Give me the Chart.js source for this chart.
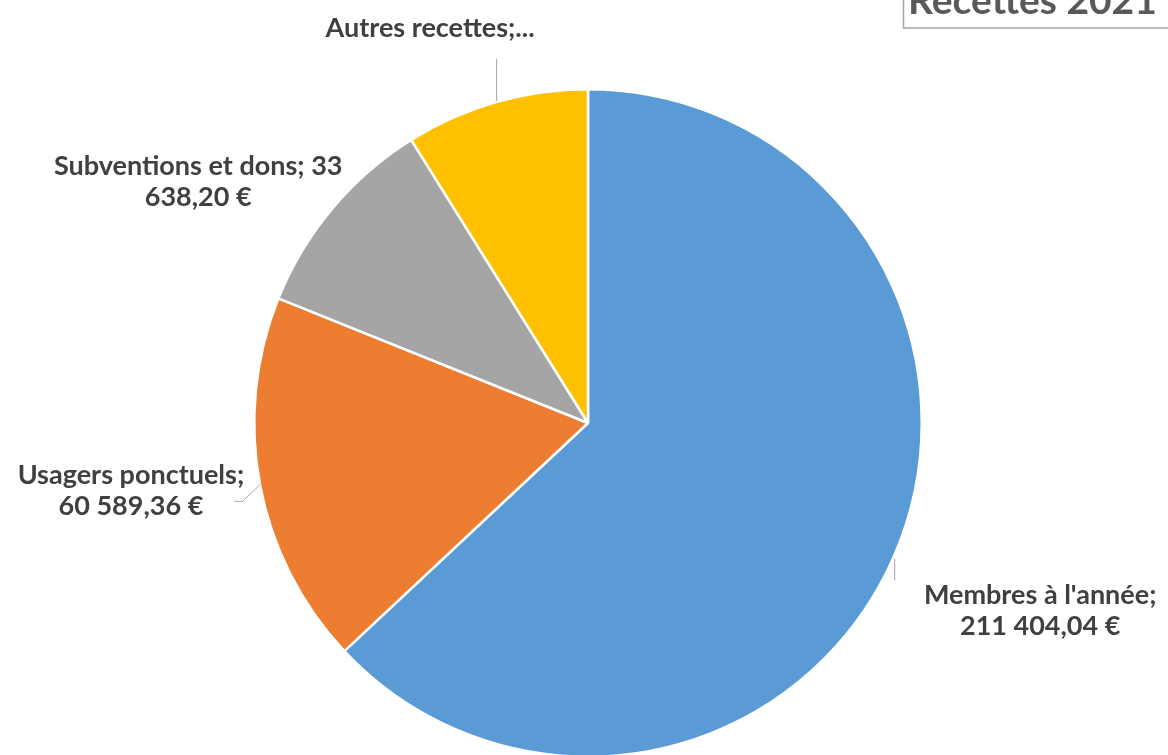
<!DOCTYPE html>
<html>
<head>
<meta charset="utf-8">
<script src="https://cdn.jsdelivr.net/npm/chart.js@4.4.0/dist/chart.umd.min.js"></script>
<style>
html,body{margin:0;padding:0;background:#fff;overflow:hidden;width:1168px;height:755px;}
#wrap{position:absolute;left:0;top:0;width:1168px;height:800px;}
</style>
</head>
<body>
<div id="wrap"><canvas id="c"></canvas></div>
<script>
const categories = ["Membres à l'année", "Usagers ponctuels", "Subventions et dons", "Autres recettes"];
const values = [211404.04, 60589.36, 33638.20, 29800.00];
const labelLines = [
  ["Membres à l'année;", "211 404,04 €"],
  ["Usagers ponctuels;", "60 589,36 €"],
  ["Subventions et dons; 33", "638,20 €"],
  ["Autres recettes;..."]
];
const colors = ["#5B9BD5", "#ED7D31", "#A5A5A5", "#FFC000"];
const titleText = "Recettes 2021";

// label placement relative to the arc's outer mid-point: [dx, dy of first line center], leader line
const labelCfg = [
  {dx: 146, dy: 40, lead: [[0, 3], [0, 25]]},
  {dx: -129, dy: -9, lead: [[0, 0], [-18, 17], [-26, 17]]},
  {dx: -134, dy: -42, lead: null},
  {dx: -66, dy: -74, lead: [[0, -1], [0, -43]]}
];

const labelPlugin = {
  id: 'labels',
  afterDraw(chart) {
    const ctx = chart.ctx;
    const meta = chart.getDatasetMeta(0);
    ctx.save();
    meta.data.forEach((arc, i) => {
      const p = arc.getProps(['x','y','startAngle','endAngle','outerRadius'], true);
      const mid = (p.startAngle + p.endAngle) / 2;
      const ax = p.x + Math.cos(mid) * p.outerRadius;
      const ay = p.y + Math.sin(mid) * p.outerRadius;
      const cfg = labelCfg[i];
      if (cfg.lead) {
        ctx.strokeStyle = '#A6A6A6';
        ctx.lineWidth = 1;
        ctx.beginPath();
        cfg.lead.forEach((pt, k) => {
          const X = ax + pt[0] + 0.5, Y = ay + pt[1];
          if (k === 0) ctx.moveTo(X, Y); else ctx.lineTo(X, Y);
        });
        ctx.stroke();
      }
      ctx.fillStyle = '#404040';
      ctx.font = 'bold 27px Lato, "Open Sans", sans-serif';
      ctx.textAlign = 'center';
      ctx.textBaseline = 'middle';
      labelLines[i].forEach((t, k) => {
        ctx.fillText(t, ax + cfg.dx, ay + cfg.dy + k * 31);
      });
    });
    // title box (cut at top-right)
    ctx.strokeStyle = '#A6A6A6';
    ctx.lineWidth = 1.5;
    ctx.fillStyle = '#fff';
    ctx.beginPath();
    ctx.rect(903.5, -20, 300, 48);
    ctx.fill();
    ctx.stroke();
    ctx.fillStyle = '#595959';
    ctx.font = 'bold 39px Lato, "Open Sans", sans-serif';
    ctx.textAlign = 'left';
    ctx.textBaseline = 'alphabetic';
    ctx.fillText(titleText, 908, 14);
    ctx.restore();
  }
};

new Chart(document.getElementById('c'), {
  type: 'pie',
  data: {
    labels: categories,
    datasets: [{
      data: values,
      backgroundColor: colors,
      borderColor: '#ffffff',
      borderWidth: 2.5,
      hoverOffset: 0
    }]
  },
  options: {
    responsive: true,
    maintainAspectRatio: false,
    animation: false,
    layout: {padding: {top: 88, bottom: 42, left: 253, right: 245}},
    plugins: {legend: {display: false}, tooltip: {enabled: false}, title: {display: false}}
  },
  plugins: [labelPlugin]
});
</script>
</body>
</html>
